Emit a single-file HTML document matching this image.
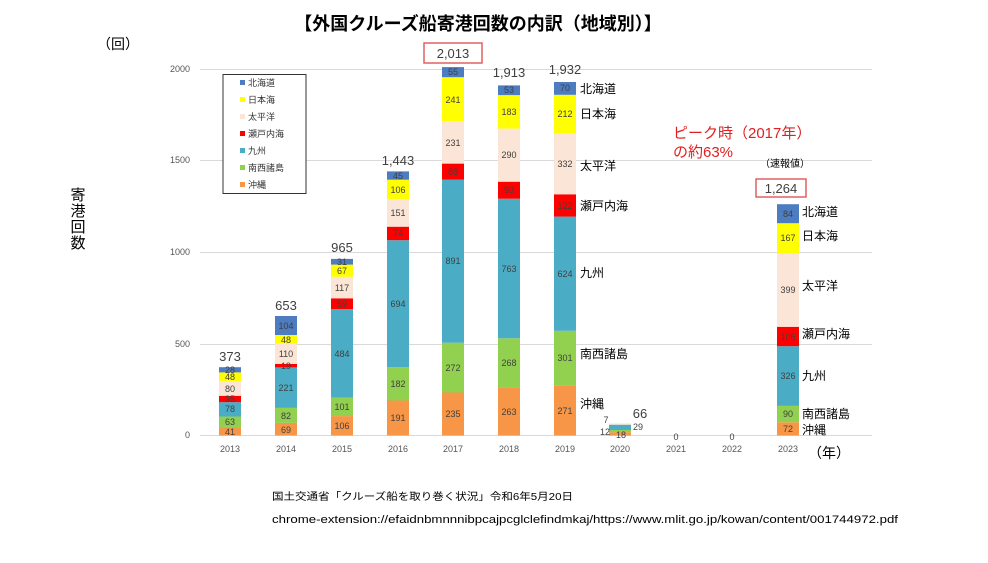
<!DOCTYPE html>
<html><head><meta charset="utf-8"><style>
body{margin:0;background:#fff;}
svg{display:block;font-family:"Liberation Sans","Noto Sans CJK JP",sans-serif;}
</style></head><body>
<svg width="988" height="563" viewBox="0 0 988 563" xmlns="http://www.w3.org/2000/svg">
<rect width="988" height="563" fill="#fff"/>
<text x="478" y="30" text-anchor="middle" font-size="18" font-weight="bold" fill="#000">【外国クルーズ船寄港回数の内訳（地域別）】</text>
<text x="97" y="49" font-size="14" fill="#000">（回）</text>
<g font-size="15" fill="#000" text-anchor="middle"><text x="78" y="200">寄</text><text x="78" y="216">港</text><text x="78" y="232">回</text><text x="78" y="248">数</text></g>
<g stroke="#d9d9d9" stroke-width="1">
<line x1="200" y1="69.5" x2="872" y2="69.5"/><line x1="200" y1="160.5" x2="872" y2="160.5"/><line x1="200" y1="252.5" x2="872" y2="252.5"/><line x1="200" y1="344.5" x2="872" y2="344.5"/><line x1="200" y1="435.5" x2="872" y2="435.5"/>
</g>
<g font-size="9" fill="#555" text-anchor="end">
<text x="190" y="72">2000</text><text x="190" y="163">1500</text><text x="190" y="255">1000</text><text x="190" y="347">500</text><text x="190" y="438">0</text>
</g>
<g font-size="9" fill="#555" text-anchor="middle">
<text x="230" y="452">2013</text><text x="286" y="452">2014</text><text x="342" y="452">2015</text><text x="398" y="452">2016</text><text x="453" y="452">2017</text><text x="509" y="452">2018</text><text x="565" y="452">2019</text><text x="620" y="452">2020</text><text x="676" y="452">2021</text><text x="732" y="452">2022</text><text x="788" y="452">2023</text>
</g>
<text x="808" y="458" font-size="14" fill="#000">（年）</text>
<g>
<rect x="219" y="428" width="22" height="7.5" fill="#f79646"/><rect x="219" y="416.5" width="22" height="11.5" fill="#92d050"/><rect x="219" y="402.2" width="22" height="14.3" fill="#4bacc6"/><rect x="219" y="395.8" width="22" height="6.4" fill="#ff0000"/><rect x="219" y="381.1" width="22" height="14.7" fill="#fbe5d6"/><rect x="219" y="372.4" width="22" height="8.7" fill="#ffff00"/><rect x="219" y="367.2" width="22" height="5.2" fill="#4e7cc0"/>
<rect x="275" y="422.9" width="22" height="12.6" fill="#f79646"/><rect x="275" y="407.9" width="22" height="15" fill="#92d050"/><rect x="275" y="367.4" width="22" height="40.5" fill="#4bacc6"/><rect x="275" y="363.9" width="22" height="3.5" fill="#ff0000"/><rect x="275" y="343.8" width="22" height="20.1" fill="#fbe5d6"/><rect x="275" y="335" width="22" height="8.8" fill="#ffff00"/><rect x="275" y="316" width="22" height="19" fill="#4e7cc0"/>
<rect x="331" y="416.1" width="22" height="19.4" fill="#f79646"/><rect x="331" y="397.6" width="22" height="18.5" fill="#92d050"/><rect x="331" y="309" width="22" height="88.6" fill="#4bacc6"/><rect x="331" y="298.3" width="22" height="10.7" fill="#ff0000"/><rect x="331" y="276.8" width="22" height="21.5" fill="#fbe5d6"/><rect x="331" y="264.6" width="22" height="12.2" fill="#ffff00"/><rect x="331" y="258.9" width="22" height="5.7" fill="#4e7cc0"/>
<rect x="387" y="400.5" width="22" height="35" fill="#f79646"/><rect x="387" y="367.2" width="22" height="33.3" fill="#92d050"/><rect x="387" y="240.2" width="22" height="127" fill="#4bacc6"/><rect x="387" y="226.7" width="22" height="13.5" fill="#ff0000"/><rect x="387" y="199.1" width="22" height="27.6" fill="#fbe5d6"/><rect x="387" y="179.7" width="22" height="19.4" fill="#ffff00"/><rect x="387" y="171.4" width="22" height="8.3" fill="#4e7cc0"/>
<rect x="442" y="392.5" width="22" height="43" fill="#f79646"/><rect x="442" y="342.7" width="22" height="49.8" fill="#92d050"/><rect x="442" y="179.7" width="22" height="163" fill="#4bacc6"/><rect x="442" y="163.6" width="22" height="16.1" fill="#ff0000"/><rect x="442" y="121.3" width="22" height="42.3" fill="#fbe5d6"/><rect x="442" y="77.2" width="22" height="44.1" fill="#ffff00"/><rect x="442" y="67.1" width="22" height="10.1" fill="#4e7cc0"/>
<rect x="498" y="387.4" width="22" height="48.1" fill="#f79646"/><rect x="498" y="338.3" width="22" height="49.1" fill="#92d050"/><rect x="498" y="198.7" width="22" height="139.6" fill="#4bacc6"/><rect x="498" y="181.7" width="22" height="17" fill="#ff0000"/><rect x="498" y="128.6" width="22" height="53.1" fill="#fbe5d6"/><rect x="498" y="95.1" width="22" height="33.5" fill="#ffff00"/><rect x="498" y="85.4" width="22" height="9.7" fill="#4e7cc0"/>
<rect x="554" y="385.9" width="22" height="49.6" fill="#f79646"/><rect x="554" y="330.8" width="22" height="55.1" fill="#92d050"/><rect x="554" y="216.6" width="22" height="114.2" fill="#4bacc6"/><rect x="554" y="194.3" width="22" height="22.3" fill="#ff0000"/><rect x="554" y="133.6" width="22" height="60.7" fill="#fbe5d6"/><rect x="554" y="94.8" width="22" height="38.8" fill="#ffff00"/><rect x="554" y="82" width="22" height="12.8" fill="#4e7cc0"/>
<rect x="609" y="432.2" width="22" height="3.3" fill="#f79646"/><rect x="609" y="430" width="22" height="2.2" fill="#92d050"/><rect x="609" y="424.7" width="22" height="5.3" fill="#4bacc6"/><rect x="609" y="423.4" width="22" height="1.3" fill="#fbe5d6"/>
<rect x="777" y="422.3" width="22" height="13.2" fill="#f79646"/><rect x="777" y="405.9" width="22" height="16.4" fill="#92d050"/><rect x="777" y="346.2" width="22" height="59.7" fill="#4bacc6"/><rect x="777" y="326.8" width="22" height="19.4" fill="#ff0000"/><rect x="777" y="253.8" width="22" height="73" fill="#fbe5d6"/><rect x="777" y="223.2" width="22" height="30.6" fill="#ffff00"/><rect x="777" y="204.2" width="22" height="19" fill="#4e7cc0"/>
</g>
<g font-size="9" fill="#404040" text-anchor="middle">
<text x="230" y="435">41</text><text x="230" y="425">63</text><text x="230" y="412">78</text><text x="230" y="402">35</text><text x="230" y="392">80</text><text x="230" y="380">48</text><text x="230" y="373">28</text>
<text x="286" y="433">69</text><text x="286" y="419">82</text><text x="286" y="391">221</text><text x="286" y="369">19</text><text x="286" y="357">110</text><text x="286" y="343">48</text><text x="286" y="329">104</text>
<text x="342" y="429">106</text><text x="342" y="410">101</text><text x="342" y="357">484</text><text x="342" y="307">59</text><text x="342" y="291">117</text><text x="342" y="274">67</text><text x="342" y="265">31</text>
<text x="398" y="421">191</text><text x="398" y="387">182</text><text x="398" y="307">694</text><text x="398" y="236">74</text><text x="398" y="216">151</text><text x="398" y="193">106</text><text x="398" y="179">45</text>
<text x="453" y="417">235</text><text x="453" y="371">272</text><text x="453" y="264">891</text><text x="453" y="175">88</text><text x="453" y="146">231</text><text x="453" y="103">241</text><text x="453" y="75">55</text>
<text x="509" y="415">263</text><text x="509" y="366">268</text><text x="509" y="272">763</text><text x="509" y="193">93</text><text x="509" y="158">290</text><text x="509" y="115">183</text><text x="509" y="93">53</text>
<text x="565" y="414">271</text><text x="565" y="361">301</text><text x="565" y="277">624</text><text x="565" y="209">122</text><text x="565" y="167">332</text><text x="565" y="117">212</text><text x="565" y="91">70</text>
<text x="621" y="438">18</text><text x="605" y="435">12</text><text x="638" y="430">29</text><text x="606" y="423">7</text>
<text x="788" y="432">72</text><text x="788" y="417">90</text><text x="788" y="379">326</text><text x="788" y="340">106</text><text x="788" y="293">399</text><text x="788" y="241">167</text><text x="788" y="217">84</text>
<text x="676" y="440">0</text><text x="732" y="440">0</text>
</g>
<g font-size="13" fill="#404040" text-anchor="middle">
<text x="230" y="361">373</text><text x="286" y="310">653</text><text x="342" y="252">965</text><text x="398" y="165">1,443</text><text x="509" y="77">1,913</text><text x="565" y="74">1,932</text><text x="640" y="418">66</text>
</g>
<rect x="424" y="43" width="58" height="20" fill="#fff" stroke="#e06060" stroke-width="1.5"/>
<text x="453" y="58" font-size="13" fill="#404040" text-anchor="middle">2,013</text>
<rect x="756" y="179" width="50" height="18" fill="#fff" stroke="#e06060" stroke-width="1.5"/>
<text x="781" y="193" font-size="13" fill="#404040" text-anchor="middle">1,264</text>
<text x="760" y="167" font-size="10" fill="#000">（速報値）</text>
<g font-size="12" fill="#000">
<text x="580" y="93">北海道</text><text x="580" y="118">日本海</text><text x="580" y="170">太平洋</text><text x="580" y="210">瀬戸内海</text><text x="580" y="277">九州</text><text x="580" y="358">南西諸島</text><text x="580" y="408">沖縄</text>
<text x="802" y="216">北海道</text><text x="802" y="240">日本海</text><text x="802" y="290">太平洋</text><text x="802" y="338">瀬戸内海</text><text x="802" y="380">九州</text><text x="802" y="418">南西諸島</text><text x="802" y="434">沖縄</text>
</g>
<text x="673" y="138" font-size="15" fill="#e02020">ピーク時（2017年）</text>
<text x="673" y="157" font-size="15" fill="#e02020">の約63%</text>
<rect x="223" y="74.5" width="83" height="119" fill="#fff" stroke="#333" stroke-width="1"/>
<g font-size="9" fill="#333">
<rect x="240" y="80" width="5" height="5" fill="#4e7cc0"/><text x="248" y="86">北海道</text>
<rect x="240" y="97" width="5" height="5" fill="#ffff00"/><text x="248" y="103">日本海</text>
<rect x="240" y="114" width="5" height="5" fill="#fbe5d6"/><text x="248" y="120">太平洋</text>
<rect x="240" y="131" width="5" height="5" fill="#ff0000"/><text x="248" y="137">瀬戸内海</text>
<rect x="240" y="148" width="5" height="5" fill="#4bacc6"/><text x="248" y="154">九州</text>
<rect x="240" y="165" width="5" height="5" fill="#92d050"/><text x="248" y="171">南西諸島</text>
<rect x="240" y="182" width="5" height="5" fill="#f79646"/><text x="248" y="188">沖縄</text>
</g>
<text x="272" y="500" font-size="10" fill="#000" textLength="301" lengthAdjust="spacingAndGlyphs">国土交通省「クルーズ船を取り巻く状況」令和6年5月20日</text>
<text x="272" y="523" font-size="11" fill="#000" textLength="626" lengthAdjust="spacingAndGlyphs">chrome-extension://efaidnbmnnnibpcajpcglclefindmkaj/https://www.mlit.go.jp/kowan/content/001744972.pdf</text>
</svg>
</body></html>
